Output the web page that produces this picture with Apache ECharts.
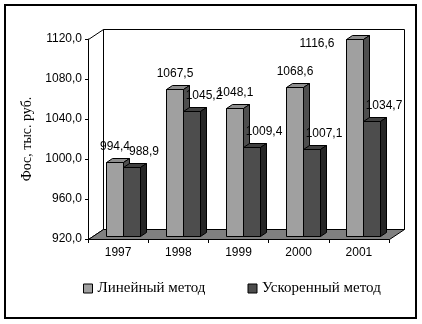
<!DOCTYPE html>
<html>
<head>
<meta charset="utf-8">
<script src="https://cdn.jsdelivr.net/npm/echarts@6/dist/echarts.min.js"></script>
<style>
  html, body { margin: 0; padding: 0; background: #fff; }
  #chart { width: 422px; height: 324px; }
</style>
</head>
<body>
<div id="chart"></div>
<script>
// ---- data ----
const years = ['1997', '1998', '1999', '2000', '2001'];
const linearMethod = [994.4, 1067.5, 1048.1, 1068.6, 1116.6];
const acceleratedMethod = [988.9, 1045.2, 1009.4, 1007.1, 1034.7];
const seriesNames = ['Линейный метод', 'Ускоренный метод'];
const yTitle = 'Фос, тыс. руб.';
const yMin = 920, yMax = 1120, yStep = 40;

// ---- 3D look ----
const WALL_DX = 15, WALL_DY = -10;      // depth offset of the back wall
const FRONT_DEPTH = 0.3, BACK_DEPTH = 0.7;
const BAR_RATIO = 0.28;                 // bar width as share of a category band
const SANS = '"Liberation Sans", Arial, sans-serif';
const LABEL_FONT = '12px ' + SANS;
const SERIF = '"Liberation Serif", "Times New Roman", serif';

const faces = [
  { front: '#A0A0A0', top: '#8E8E8E', side: '#4E4E4E' },
  { front: '#4D4D4D', top: '#404040', side: '#262626' }
];
const labelShift = [-3, 9];

const fmt = v => v.toFixed(1).replace('.', ',');
const px = v => Math.round(v) + 0.5;

function poly(points, fill) {
  return {
    type: 'polygon',
    shape: { points: points },
    style: { fill: fill, stroke: '#000', lineWidth: 1, lineJoin: 'miter' }
  };
}

function frameRenderer(params, api) {
  const band = api.size([1, 0])[0];
  const l = px(api.coord([0, yMin])[0] - band / 2);
  const r = px(api.coord([years.length - 1, yMin])[0] + band / 2);
  const b = px(api.coord([0, yMin])[1]);
  const t = px(api.coord([0, yMax])[1]);
  const dx = WALL_DX, dy = WALL_DY;
  return {
    type: 'group',
    children: [
      // back wall
      poly([[l + dx, t + dy], [r + dx, t + dy], [r + dx, b + dy], [l + dx, b + dy]], '#fff'),
      // side wall
      poly([[l, t], [l + dx, t + dy], [l + dx, b + dy], [l, b]], '#fff'),
      // floor
      poly([[l, b], [r, b], [r + dx, b + dy], [l + dx, b + dy]], '#808080')
    ]
  };
}

function barRenderer(slot) {
  const f = faces[slot];
  return function (params, api) {
    const i = api.value(0), v = api.value(1);
    const band = api.size([1, 0])[0];
    const w = Math.round(band * BAR_RATIO);
    const topPt = api.coord([i, v]);
    const basePt = api.coord([i, yMin]);
    const fx = WALL_DX * FRONT_DEPTH, fy = WALL_DY * FRONT_DEPTH;
    const ddx = Math.round(WALL_DX * (BACK_DEPTH - FRONT_DEPTH));
    const ddy = Math.round(WALL_DY * (BACK_DEPTH - FRONT_DEPTH));
    const x0 = px(topPt[0] + (slot === 0 ? -w : 0) + fx);
    const x1 = x0 + w;
    const yt = px(topPt[1] + fy);
    const yb = px(basePt[1] + fy);
    const children = [
      poly([[x0, yt], [x1, yt], [x1, yb], [x0, yb]], f.front),
      poly([[x0, yt], [x1, yt], [x1 + ddx, yt + ddy], [x0 + ddx, yt + ddy]], f.top),
      poly([[x1, yt], [x1 + ddx, yt + ddy], [x1 + ddx, yb + ddy], [x1, yb]], f.side)
    ];
    // value label above the bar, or beside it when there is no room on the wall
    const wallTop = api.coord([0, yMax])[1] + WALL_DY;
    let lx = (x0 + x1 + ddx) / 2 + labelShift[slot];
    let ly = yt + ddy - 12;
    let align = 'center';
    if (ly - 6 < wallTop) {
      lx = x0 - 12;
      ly = yt + 4;
      align = 'right';
    }
    children.push({
      type: 'text',
      style: {
        text: fmt(v), x: lx, y: ly, fill: '#000', font: LABEL_FONT,
        align: align, verticalAlign: 'middle'
      }
    });
    return { type: 'group', children: children };
  };
}

const chart = echarts.init(document.getElementById('chart'), null, { renderer: 'canvas' });
chart.setOption({
  animation: false,
  backgroundColor: '#fff',
  graphic: [{
    type: 'rect',
    shape: { x: 5, y: 5, width: 411, height: 313 },
    style: { fill: null, stroke: '#000', lineWidth: 2 },
    z: 100
  }],
  grid: { left: 88, top: 39, width: 301, height: 200 },
  legend: {
    data: seriesNames,
    left: 83,
    top: 281,
    padding: 0,
    icon: 'rect',
    itemWidth: 9,
    itemHeight: 9,
    itemGap: 42,
    itemStyle: { borderColor: '#000', borderWidth: 1 },
    textStyle: { fontFamily: SERIF, fontSize: 15, color: '#000' }
  },
  xAxis: {
    type: 'category',
    data: years,
    axisLine: { lineStyle: { color: '#000', width: 1 } },
    axisTick: { show: true, length: 4, interval: 0, lineStyle: { color: '#000' } },
    axisLabel: { margin: 8, color: '#000', fontFamily: SANS, fontSize: 12 },
    splitLine: { show: false }
  },
  yAxis: {
    type: 'value',
    min: yMin, max: yMax, interval: yStep,
    name: yTitle,
    nameLocation: 'middle',
    nameGap: 53,
    nameRotate: 90,
    nameTextStyle: { fontFamily: SERIF, fontSize: 14, color: '#000' },
    axisLine: { show: true, lineStyle: { color: '#000', width: 1 } },
    axisTick: { show: true, length: 3, lineStyle: { color: '#000' } },
    axisLabel: {
      margin: 6, color: '#000', fontFamily: SANS, fontSize: 12,
      formatter: v => fmt(v)
    },
    splitLine: { show: false }
  },
  series: [
    {
      type: 'custom',
      name: 'frame',
      renderItem: frameRenderer,
      data: [[0, yMin]],
      z: 1,
      silent: true
    },
    {
      type: 'custom',
      name: seriesNames[0],
      renderItem: barRenderer(0),
      itemStyle: { color: faces[0].front },
      data: years.map((y, i) => [i, linearMethod[i]]),
      z: 2
    },
    {
      type: 'custom',
      name: seriesNames[1],
      renderItem: barRenderer(1),
      itemStyle: { color: faces[1].front },
      data: years.map((y, i) => [i, acceleratedMethod[i]]),
      z: 3
    }
  ]
});
</script>
</body>
</html>
